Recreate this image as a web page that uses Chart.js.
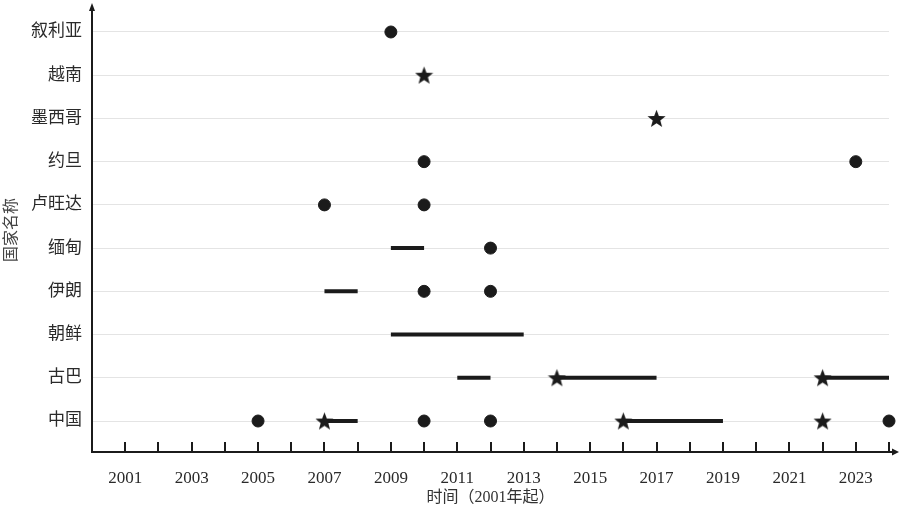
<!DOCTYPE html>
<html>
<head>
<meta charset="utf-8">
<script src="https://cdn.jsdelivr.net/npm/chart.js@4.4.1/dist/chart.umd.min.js"></script>
<style>
  html, body { margin: 0; padding: 0; background: #fff; }
  #wrap { width: 900px; height: 511px; position: relative; }
</style>
</head>
<body>
<div id="wrap"><canvas id="chart"></canvas></div>
<script>
// rows, bottom to top
const countries = ['中国', '古巴', '朝鲜', '伊朗', '缅甸', '卢旺达', '约旦', '墨西哥', '越南', '叙利亚'];
const years = [2001, 2002, 2003, 2004, 2005, 2006, 2007, 2008, 2009, 2010, 2011, 2012,
  2013, 2014, 2015, 2016, 2017, 2018, 2019, 2020, 2021, 2022, 2023, 2024];
const yearLabels = ['2001', '2003', '2005', '2007', '2009', '2011', '2013', '2015', '2017', '2019', '2021', '2023'];

// [country, year]
const dotEvents = [
  ['叙利亚', 2009], ['约旦', 2010], ['约旦', 2023], ['卢旺达', 2007], ['卢旺达', 2010],
  ['缅甸', 2012], ['伊朗', 2010], ['伊朗', 2012],
  ['中国', 2005], ['中国', 2010], ['中国', 2012], ['中国', 2024]
];
const starEvents = [
  ['越南', 2010], ['墨西哥', 2017], ['古巴', 2014], ['古巴', 2022],
  ['中国', 2007], ['中国', 2016], ['中国', 2022]
];
// [country, from, to]
const spans = [
  ['缅甸', 2009, 2010], ['伊朗', 2007, 2008], ['朝鲜', 2009, 2013],
  ['古巴', 2011, 2012], ['古巴', 2014, 2017], ['古巴', 2022, 2024],
  ['中国', 2007, 2008], ['中国', 2016, 2019]
];

const ink = '#1b1b1b';
const font = '"Liberation Serif", "Noto Sans CJK SC", serif';

function makeStar(size) {
  const c = document.createElement('canvas');
  c.width = size; c.height = size;
  const g = c.getContext('2d');
  const cx = size / 2, cy = size / 2 + 0.8, R = size / 2, r = R * 0.42;
  g.beginPath();
  for (let i = 0; i < 10; i++) {
    const a = -Math.PI / 2 + i * Math.PI / 5;
    const rr = i % 2 ? r : R;
    g.lineTo(cx + rr * Math.cos(a), cy + rr * Math.sin(a));
  }
  g.closePath();
  g.fillStyle = ink;
  g.fill();
  return c;
}
const starImg = makeStar(19);

const rowOf = name => countries.indexOf(name);

const datasets = spans.map(s => ({
  type: 'line',
  data: [{ x: s[1], y: rowOf(s[0]) }, { x: s[2], y: rowOf(s[0]) }],
  borderColor: ink,
  borderWidth: 4,
  borderCapStyle: 'butt',
  pointRadius: 0,
  clip: false,
  order: 3
}));
datasets.push({
  type: 'scatter',
  data: dotEvents.map(d => ({ x: d[1], y: rowOf(d[0]) })),
  pointStyle: 'circle',
  pointRadius: 6,
  backgroundColor: ink,
  borderColor: ink,
  clip: false,
  order: 1
});
datasets.push({
  type: 'scatter',
  data: starEvents.map(d => ({ x: d[1], y: rowOf(d[0]) })),
  pointStyle: starImg,
  backgroundColor: ink,
  clip: false,
  order: 0
});

const axisExtras = {
  id: 'axisExtras',
  afterDraw(chart) {
    const c = chart.ctx, x = chart.scales.x, a = chart.chartArea;
    c.save();
    c.strokeStyle = ink; c.fillStyle = ink; c.lineWidth = 2;
    // inward year ticks
    years.forEach(y => {
      const px = Math.round(x.getPixelForValue(y));
      c.beginPath(); c.moveTo(px, a.bottom); c.lineTo(px, a.bottom - 10); c.stroke();
    });
    // x arrow
    c.beginPath(); c.moveTo(a.right, a.bottom); c.lineTo(a.right + 4, a.bottom); c.stroke();
    c.beginPath();
    c.moveTo(a.right + 10, a.bottom); c.lineTo(a.right + 3, a.bottom - 3.5); c.lineTo(a.right + 3, a.bottom + 3.5);
    c.closePath(); c.fill();
    // y arrow
    c.beginPath();
    c.moveTo(a.left, a.top - 5); c.lineTo(a.left - 3, a.top + 3); c.lineTo(a.left + 3, a.top + 3);
    c.closePath(); c.fill();
    c.restore();
  }
};

new Chart(document.getElementById('chart'), {
  type: 'scatter',
  data: { datasets: datasets },
  options: {
    responsive: true,
    maintainAspectRatio: false,
    animation: false,
    layout: { padding: { top: 8, right: 11, bottom: 4, left: 0 } },
    plugins: { legend: { display: false }, tooltip: { enabled: false } },
    scales: {
      x: {
        type: 'linear',
        min: 2000,
        max: 2024,
        afterBuildTicks: s => { s.ticks = years.map(v => ({ value: v })); },
        afterFit: s => { s.height = 55; s.paddingLeft = 0; s.paddingRight = 0; },
        grid: { display: false },
        border: { display: true, color: ink, width: 2 },
        ticks: {
          autoSkip: false,
          maxRotation: 0,
          padding: 8,
          color: '#2a2a2a',
          font: { family: font, size: 17 },
          callback: v => yearLabels.includes(String(v)) ? String(v) : ''
        },
        title: {
          display: true,
          text: '时间（2001年起）',
          color: '#333',
          padding: { top: 4, bottom: 0 },
          font: { family: font, size: 16 }
        }
      },
      y: {
        type: 'linear',
        min: -0.717,
        max: 9.555,
        afterBuildTicks: s => { s.ticks = countries.map((n, i) => ({ value: i })); },
        afterFit: s => { s.width = 92; s.paddingTop = 0; s.paddingBottom = 0; },
        grid: { color: '#e4e4e4', lineWidth: 1, drawTicks: false },
        border: { display: true, color: ink, width: 2 },
        ticks: {
          padding: 10,
          color: '#2a2a2a',
          font: { family: font, size: 17 },
          callback: v => countries[v]
        },
        title: {
          display: true,
          text: '国家名称',
          color: '#444',
          padding: { top: 2, bottom: 4 },
          font: { family: font, size: 16 }
        }
      }
    }
  },
  plugins: [axisExtras]
});
</script>
</body>
</html>
